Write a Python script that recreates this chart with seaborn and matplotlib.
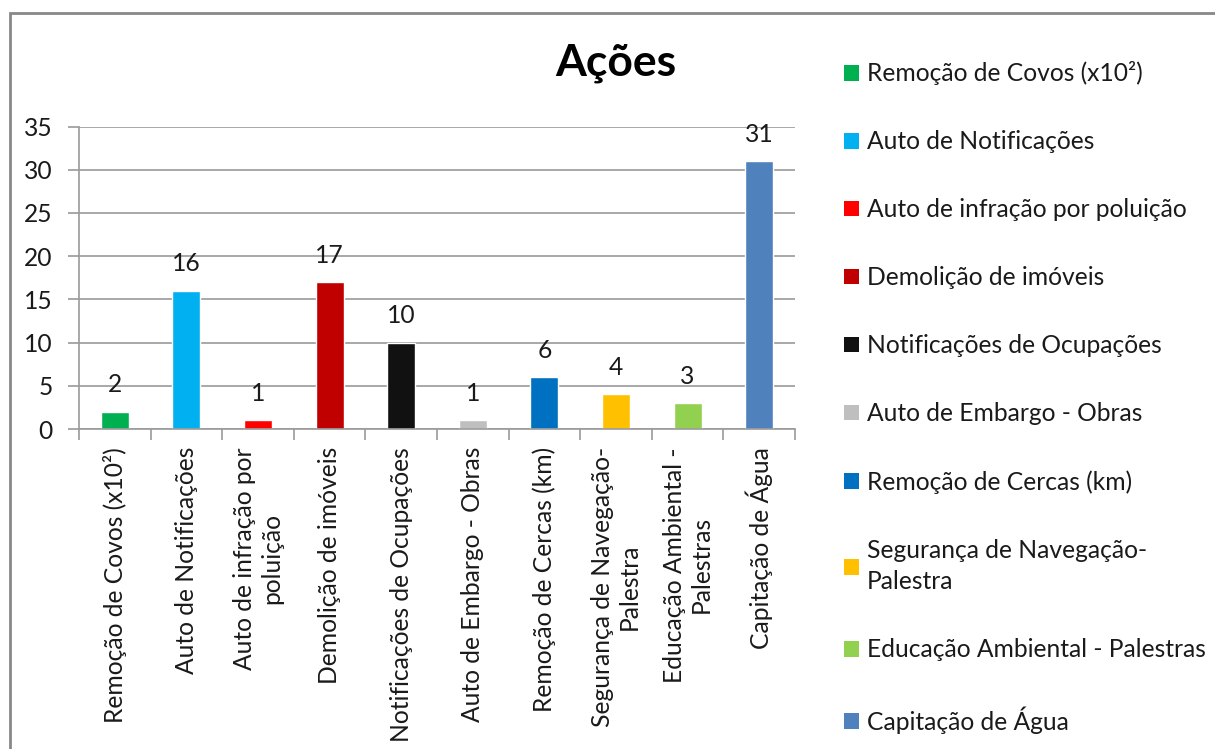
import matplotlib
matplotlib.use("Agg")
import matplotlib.pyplot as plt
from matplotlib.patches import Patch, Rectangle
import seaborn as sns
import pandas as pd

# --------------------- Data ---------------------
categories = [
    "Remoção de Covos (x10²)",
    "Auto de Notificações",
    "Auto de infração por poluição",
    "Demolição de imóveis",
    "Notificações de Ocupações",
    "Auto de Embargo - Obras",
    "Remoção de Cercas (km)",
    "Segurança de Navegação-Palestra",
    "Educação Ambiental - Palestras",
    "Capitação de Água",
]
values = [2, 16, 1, 17, 10, 1, 6, 4, 3, 31]
tick_labels = [
    "Remoção de Covos (x10²)",
    "Auto de Notificações",
    "Auto de infração por\npoluição",
    "Demolição de imóveis",
    "Notificações de Ocupações",
    "Auto de Embargo - Obras",
    "Remoção de Cercas (km)",
    "Segurança de Navegação-\nPalestra",
    "Educação Ambiental -\nPalestras",
    "Capitação de Água",
]
legend_labels = [
    "Remoção de Covos (x10²)",
    "Auto de Notificações",
    "Auto de infração por poluição",
    "Demolição de imóveis",
    "Notificações de Ocupações",
    "Auto de Embargo - Obras",
    "Remoção de Cercas (km)",
    "Segurança de Navegação-\nPalestra",
    "Educação Ambiental - Palestras",
    "Capitação de Água",
]
colors = ["#00B050", "#00B0F0", "#FF0000", "#C00000", "#111111",
          "#BFBFBF", "#0070C0", "#FFC000", "#92D050", "#4F81BD"]

df = pd.DataFrame({"acao": categories, "valor": values})

# --------------------- Style ---------------------
sns.set_theme(style="white")
plt.rcParams["font.family"] = ["Lato", "DejaVu Sans"]
text_color = "#1a1a1a"
grid_color = "#9a9a9a"
fs = 17.7

fig = plt.figure(figsize=(12.15, 7.49), dpi=100)
ax = fig.add_axes([0.065, 0.4272, 0.5893, 0.4038])

sns.barplot(data=df, x="acao", y="valor", hue="acao", palette=colors,
            legend=False, width=0.39, saturation=1, ax=ax)

for container in ax.containers:
    ax.bar_label(container, padding=11, fontsize=fs, color=text_color)

ax.set_ylim(0, 35)
ax.set_yticks(range(0, 36, 5))
ax.set_xlim(-0.5, len(categories) - 0.5)
ax.set_xticks(range(len(categories)))
ax.set_xticklabels(tick_labels, rotation=90, ha="center", va="top",
                   multialignment="center")
ax.set_xticks([i - 0.5 for i in range(len(categories) + 1)], minor=True)

ax.tick_params(axis="x", which="major", length=0, pad=13, labelsize=fs,
               labelcolor=text_color)
ax.tick_params(axis="x", which="minor", length=8, width=1.2, color=grid_color,
               direction="out", bottom=True)
ax.tick_params(axis="y", length=8, width=1.2, color=grid_color, direction="out",
               pad=11, labelsize=fs, labelcolor=text_color, left=True)

ax.yaxis.grid(True, color=grid_color, linewidth=1.2)
ax.set_axisbelow(True)
for side in ["top", "right"]:
    ax.spines[side].set_visible(False)
for side in ["left", "bottom"]:
    ax.spines[side].set_color(grid_color)
    ax.spines[side].set_linewidth(1.2)
ax.set_xlabel("")
ax.set_ylabel("")

fig.text(0.507, 0.916, "Ações", fontsize=32, fontweight="bold",
         ha="center", va="center", color="#000000")

handles = [Patch(facecolor=c, edgecolor="none") for c in colors]
leg = fig.legend(handles, legend_labels, loc="upper left",
                 bbox_to_anchor=(0.6846, 0.9347), frameon=False, fontsize=fs,
                 handlelength=0.62, handleheight=0.62, handletextpad=0.3,
                 labelspacing=1.83, borderpad=0, labelcolor=text_color)
for t in leg.get_texts():
    if "\n" in t.get_text():
        t.set_linespacing(1.45)

# outer chart frame (right and bottom edges fall outside the picture)
fig.patches.append(Rectangle((10 / 1215, -0.05), 1.2, 1 - 13 / 749 + 0.05,
                             transform=fig.transFigure, fill=False,
                             edgecolor="#888888", linewidth=2))

fig.savefig("out.png", dpi=100)
